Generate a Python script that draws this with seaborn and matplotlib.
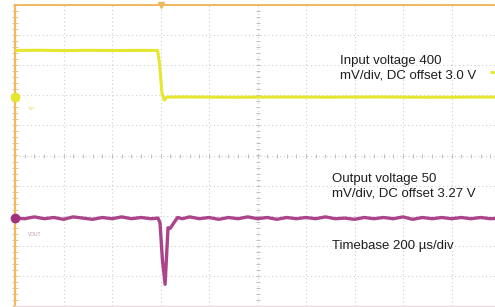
import numpy as np
import pandas as pd
import seaborn as sns
import matplotlib.pyplot as plt

# Scope settings (per channel)
in_scale = 0.4      # V/div
in_offset = 3.0     # V
in_pos = 1.94       # div on screen
out_scale = 0.05    # V/div
out_offset = 3.27   # V
out_pos = -2.08     # div on screen
timebase = 200      # us/div
trig_time = 600     # us
trig_level = 3.33   # V

# Input voltage trace (us, V)
in_t = [0, 100, 200, 300, 400, 500, 588, 596, 606, 616, 626, 700, 900, 1100, 1300, 1500, 1700, 1900, 2000]
in_v = [3.62, 3.623, 3.618, 3.622, 3.619, 3.621, 3.62, 3.45, 3.05, 2.96, 3.0, 3.002, 2.998, 3.001, 2.999, 3.002, 2.998, 3.0, 3.0]

# Output voltage trace (us, V)
out_t = [0, 40, 80, 120, 160, 200, 240, 280, 320, 360, 400, 440, 480, 520, 560,
         590, 598, 608, 619, 626, 631, 640, 655, 670, 690,
         720, 760, 800, 840, 880, 920, 960, 1000, 1040, 1080, 1120, 1160, 1200,
         1240, 1280, 1320, 1360, 1400, 1440, 1480, 1520, 1560, 1600, 1640, 1680,
         1720, 1760, 1800, 1840, 1880, 1920, 1960, 2000]
out_v = [3.270, 3.269, 3.272, 3.269, 3.271, 3.268, 3.272, 3.270, 3.268, 3.271, 3.269, 3.272, 3.269, 3.271, 3.269,
         3.270, 3.262, 3.200, 3.160, 3.215, 3.254, 3.253, 3.262, 3.271, 3.269,
         3.272, 3.269, 3.271, 3.268, 3.271, 3.269, 3.272, 3.269, 3.271, 3.268, 3.271, 3.269, 3.271,
         3.269, 3.272, 3.269, 3.270, 3.268, 3.271, 3.269, 3.271, 3.269, 3.272, 3.268, 3.271,
         3.269, 3.271, 3.269, 3.271, 3.269, 3.271, 3.269, 3.270]

labels_in = "Input voltage 400\nmV/div, DC offset 3.0 V"
labels_out = "Output voltage 50\nmV/div, DC offset 3.27 V"
label_tb = "Timebase 200 \u00b5s/div"

sns.set_style("white")
plt.rcParams['font.family'] = ['Liberation Sans', 'DejaVu Sans']

yellow = "#e6e62e"
purple = "#a3307e"
orange = "#f0b860"

fig = plt.figure(figsize=(4.95, 3.07), dpi=100)
ax = fig.add_axes([15 / 495, 1 / 307, 485 / 495, 301 / 307])

df_in = pd.DataFrame({"t": in_t, "div": in_pos + (np.array(in_v) - in_offset) / in_scale})
df_out = pd.DataFrame({"t": out_t, "div": out_pos + (np.array(out_v) - out_offset) / out_scale})

sns.lineplot(data=df_in, x="t", y="div", color=yellow, lw=2.2, ax=ax, sort=False, zorder=5)
sns.lineplot(data=df_out, x="t", y="div", color=purple, lw=2.4, ax=ax, sort=False, zorder=5, alpha=0.9)

ax.set_xlim(0, 10 * timebase)
ax.set_ylim(-5, 5)
ax.set_xlabel("")
ax.set_ylabel("")

# graticule
ax.set_xticks(np.arange(0, 10 * timebase + 1, timebase))
ax.set_yticks(np.arange(-5, 6, 1))
ax.grid(True, color="#d0d0d0", ls=(0, (1, 2.5)), lw=0.8)
ax.tick_params(length=0, labelbottom=False, labelleft=False)
minor_x = np.arange(0, 10 * timebase + 1, timebase / 5)
minor_y = np.arange(-5, 5.01, 0.2)
ax.plot(minor_x, np.zeros_like(minor_x), ls="none", marker="|", ms=3, color="#c0c0c0", mew=0.7)
ax.plot(np.full_like(minor_y, 5 * timebase), minor_y, ls="none", marker="_", ms=3, color="#c0c0c0", mew=0.7)
ax.plot(np.full_like(minor_y, 0), minor_y, ls="none", marker="_", ms=4, color="#e8c890", mew=0.7, clip_on=False)

ax.spines["right"].set_visible(False)
ax.spines["left"].set_color(orange)
ax.spines["left"].set_linewidth(1.6)
ax.spines["top"].set_color(orange)
ax.spines["top"].set_linewidth(1.4)
ax.spines["bottom"].set_color("#f0d8e0")
ax.spines["bottom"].set_linewidth(1.0)

# channel / trigger markers
ax.plot([0], [in_pos], marker="o", ms=6, color=yellow, clip_on=False, zorder=6)
ax.plot([0], [out_pos], marker="o", ms=6, color=purple, clip_on=False, zorder=6)
ax.plot([trig_time], [5], marker="v", ms=5, color=orange, clip_on=False, zorder=6)
ax.plot([1971], [in_pos + (trig_level - in_offset) / in_scale], marker="_", ms=4, mew=2, color=yellow, clip_on=False)
ax.text(55, in_pos - 0.38, "Vin", color="#e0e070", fontsize=3.5, va="center")
ax.text(55, out_pos - 0.55, "VOUT", color="#c090b0", fontsize=3.5, va="center")

# annotations
ax.text(1340, 2.9, labels_in, fontsize=9.5, color="#1e1e1e", va="center", linespacing=1.25)
ax.text(1307, -1.02, labels_out, fontsize=9.5, color="#1e1e1e", va="center", linespacing=1.25)
ax.text(1307, -3.0, label_tb, fontsize=9.5, color="#1e1e1e", va="center")

fig.savefig("out.png", dpi=100)
